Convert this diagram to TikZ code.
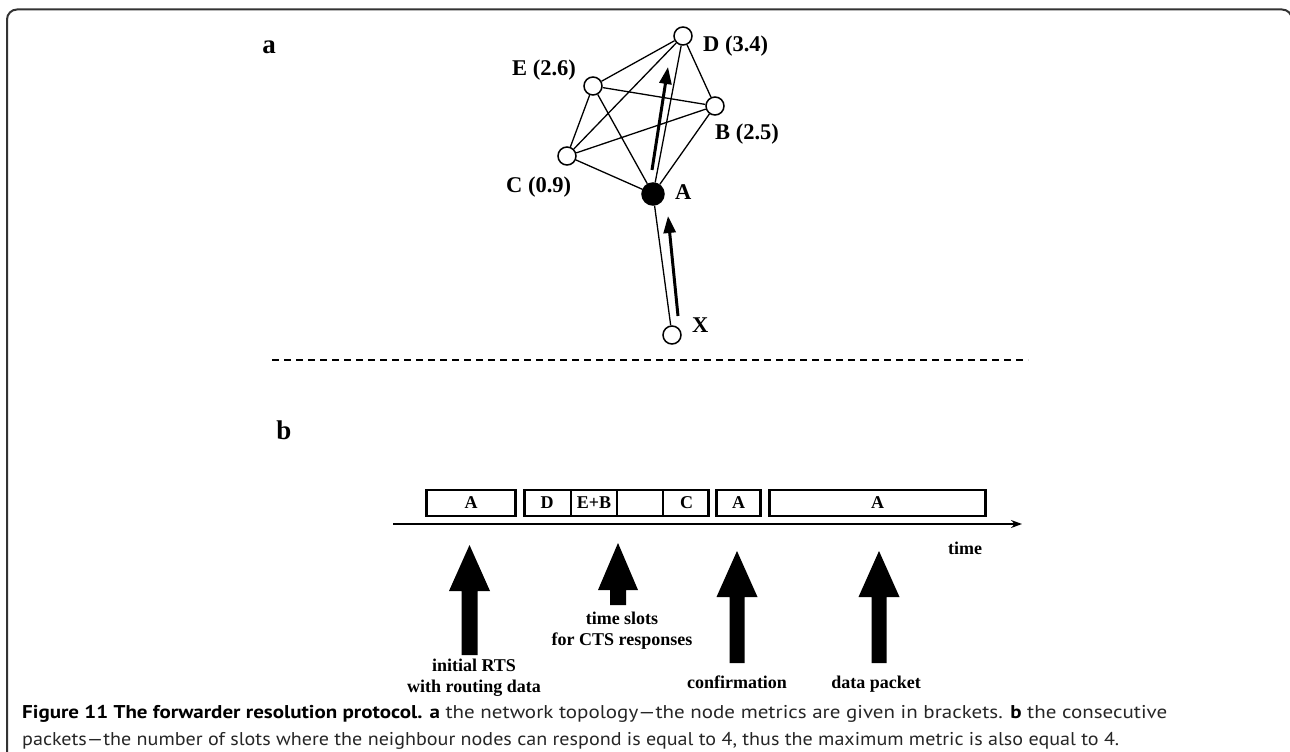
\documentclass[tikz,border=0pt]{standalone}
\usepackage{fontspec}
\usepackage{graphicx}
\setmainfont{Liberation Serif}
\newfontfamily\capfont{PT Sans}
\usetikzlibrary{arrows.meta}
\tikzset{
  vert/.style={circle,draw,fill=white,minimum size=18pt,inner sep=0pt,line width=1.5pt},
  vfill/.style={circle,draw,fill=black,minimum size=22pt,inner sep=0pt,line width=1.5pt},
  edge/.style={line width=1.3pt},
  lab/.style={font=\fontsize{22.5}{24}\selectfont\bfseries,inner sep=0pt},
  panel/.style={font=\fontsize{27}{30}\selectfont\bfseries,inner sep=0pt},
  fwd/.style={line width=3pt,-{Triangle[length=17pt,width=12pt]}},
  pkt/.style={draw,line width=2.8pt,minimum height=26pt,inner sep=0pt,font=\fontsize{18}{19}\selectfont\bfseries},
  txt/.style={font=\fontsize{18}{21}\selectfont\bfseries,inner sep=0pt,align=center},
  blk/.style={fill=black},
  captext/.style={anchor=base west,inner sep=0pt,font=\capfont\fontsize{18.5}{22}\selectfont,text=black!85},
}
\newcommand{\blockarrow}[6]{% x, tip y, base y, head half width, shaft half width, bottom y
  \fill[blk] (#1,#2) -- (#1+#4,#3) -- (#1+#5,#3) -- (#1+#5,#6) -- (#1-#5,#6) -- (#1-#5,#3) -- (#1-#4,#3) -- cycle;}
\begin{document}
\begin{tikzpicture}[x=1pt,y=-1pt]
\clip (0,0) rectangle (1290,752);
\fill[white] (0,0) rectangle (1290,752);
% frame
\draw[line width=2pt,color=black!80,rounded corners=10pt] (7,800) -- (7,9.5) -- (1292,9.5) -- (1292,800);
% panel letters
\node[panel,anchor=base] (pa) at (269,53) {a};
\node[panel,anchor=base] (pb) at (284,439) {b};
% network
\node[vert] (D) at (683,36) {};
\node[vert] (E) at (593,86) {};
\node[vert] (B) at (715,106) {};
\node[vert] (C) at (567,156) {};
\node[vfill] (A) at (653,194) {};
\node[vert] (X) at (672,335) {};
\foreach \u/\v in {A/B,A/C,A/D,A/E,B/C,B/D,B/E,C/D,C/E,D/E,A/X}
  \draw[edge] (\u) -- (\v);
\node[lab,anchor=base west] (lD) at (703,52) {D (3.4)};
\node[lab,anchor=base west] (lE) at (512,76) {E (2.6)};
\node[lab,anchor=base west] (lB) at (715,139) {B (2.5)};
\node[lab,anchor=base west] (lC) at (506,192) {C (0.9)};
\node[lab,anchor=base west] (lA) at (675,199) {A};
\node[lab,anchor=base west] (lX) at (692,332) {X};
\coordinate (f1s) at (652,170);
\coordinate (f1e) at (668,67);
\coordinate (f2s) at (678,316);
\coordinate (f2e) at (668,216);
\draw[fwd] (f1s) -- (f1e);
\draw[fwd] (f2s) -- (f2e);
% separator
\coordinate (s1) at (272,360);
\coordinate (s2) at (1028,360);
\draw[line width=1.3pt,dash pattern=on 7pt off 5pt] (s1) -- (s2);
% timeline
\coordinate (t0) at (393,524);
\coordinate (t1) at (1022,524);
\draw[line width=1.5pt,-{Stealth[length=11pt,width=8pt]}] (t0) -- (t1);
\node[txt] (time) at (965,548) {time};
\node[pkt,minimum width=89pt] (p1) at (471,503) {A};
\node[pkt,minimum width=184pt] (p2) at (616.5,503) {};
\draw[line width=1.6pt] (571,490) -- (571,516);
\draw[line width=1.6pt] (617,490) -- (617,516);
\draw[line width=1.6pt] (663,490) -- (663,516);
\node[txt] (cD) at (547,503) {D};
\node[txt] (cEB) at (594,503) {E+B};
\node[txt] (cC) at (686.5,503) {C};
\node[pkt,minimum width=44pt] (p3) at (738.5,503) {A};
\node[pkt,minimum width=216pt] (p4) at (877.5,503) {A};
% block arrows
\blockarrow{469.5}{545}{591}{20.5}{8}{655}
\blockarrow{618}{543}{590}{20}{8}{605}
\blockarrow{737}{551}{597}{20.5}{7.5}{663}
\blockarrow{879}{551}{597}{20.5}{7.5}{663}
\node[txt,anchor=base] (l1) at (474,692) {initial RTS\\with routing data};
\node[txt,anchor=base] (l2) at (622,645) {time slots\\for CTS responses};
\node[txt,anchor=base] (l3) at (737,688) {confirmation};
\node[txt,anchor=base] (l4) at (876,688) {data packet};
% caption
\node[captext] (cap1) at (22,718)
  {\resizebox{1145pt}{\height}{\textbf{\color{black}Figure 11 The forwarder resolution protocol. a} the network topology—the node metrics are given in brackets. \textbf{\color{black}b} the consecutive}};
\node[captext] (cap2) at (22,745)
  {\resizebox{1097pt}{\height}{packets—the number of slots where the neighbour nodes can respond is equal to 4, thus the maximum metric is also equal to 4.}};
\end{tikzpicture}
\end{document}
